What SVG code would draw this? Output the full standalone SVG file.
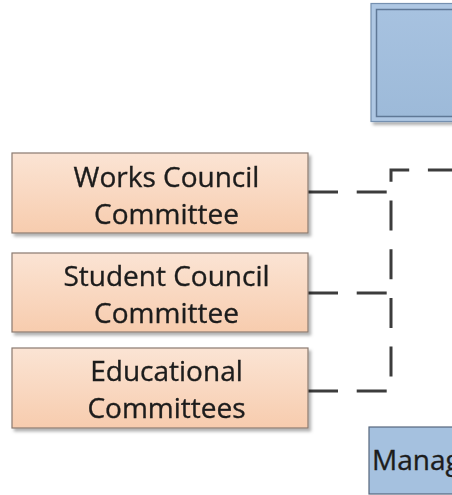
<svg xmlns="http://www.w3.org/2000/svg" width="452" height="495" viewBox="0 0 452 495">
<style>
.lbl{font-family:"Open Sans","Liberation Sans",sans-serif;font-size:28px;fill:#1c1c1c;stroke:#1c1c1c;stroke-width:0.35;text-anchor:middle}
.peach{fill:url(#gPeach);stroke:#8a7a70;stroke-width:1.2}
.conn{fill:none;stroke:#3c3c3c;stroke-width:3;stroke-dasharray:30 18.7}
</style>
<defs>
<linearGradient id="gPeach" x1="0" y1="0" x2="0" y2="1">
<stop offset="0" stop-color="#fbe4d4"/>
<stop offset="1" stop-color="#f7ccae"/>
</linearGradient>
<linearGradient id="gBlue" x1="0" y1="0" x2="0" y2="1">
<stop offset="0" stop-color="#a7c2e0"/>
<stop offset="1" stop-color="#9dbad9"/>
</linearGradient>
<filter id="sh" x="-10%" y="-10%" width="130%" height="140%">
<feDropShadow dx="2.5" dy="3" stdDeviation="1.8" flood-color="#000" flood-opacity="0.3"/>
</filter>
</defs>
<g id="connectors">
<path class="conn" d="M308,391 H391 V170 H452"/>
<path class="conn" d="M308,192 H391"/>
<path class="conn" d="M308,293 H391"/>
</g>
<g id="top-node" filter="url(#sh)">
<rect x="371" y="3.5" width="90" height="118" fill="#aec7e3" stroke="#7590b0" stroke-width="1.2"/>
<rect x="376.5" y="9.5" width="80" height="107" fill="url(#gBlue)" stroke="#5f7896" stroke-width="1.5"/>
</g>
<g id="works-council" filter="url(#sh)">
<rect class="peach" x="12" y="153" width="296" height="80"/>
<text class="lbl" x="166.5" y="187">Works Council</text>
<text class="lbl" x="166.5" y="224">Committee</text>
</g>
<g id="student-council" filter="url(#sh)">
<rect class="peach" x="12" y="253" width="296" height="79"/>
<text class="lbl" x="166.5" y="286">Student Council</text>
<text class="lbl" x="166.5" y="323">Committee</text>
</g>
<g id="educational" filter="url(#sh)">
<rect class="peach" x="12" y="348" width="296" height="80"/>
<text class="lbl" x="166.5" y="381">Educational</text>
<text class="lbl" x="166.5" y="418">Committees</text>
</g>
<g id="management">
<rect x="369" y="427" width="100" height="67" fill="#a5c1df" stroke="#56677d" stroke-width="1.2"/>
<text class="lbl" x="372" y="470" style="text-anchor:start">Manag</text>
</g>
</svg>
